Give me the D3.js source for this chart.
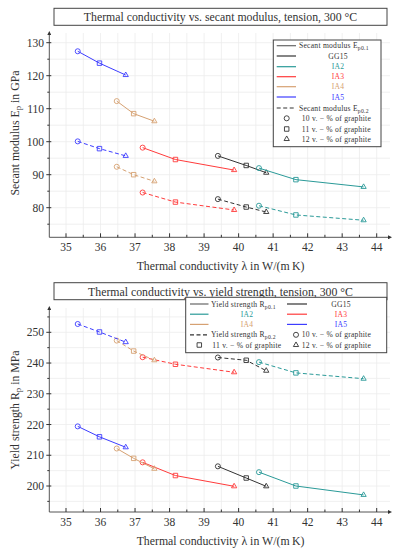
<!DOCTYPE html>
<html>
<head>
<meta charset="utf-8">
<script src="https://d3js.org/d3.v7.min.js"></script>
<style>
body { margin: 0; background: #fff; }
text { font-family: "Liberation Serif", "DejaVu Serif", serif; fill: #333; }
.leg text { letter-spacing: 0.25px; }
</style>
</head>
<body>
<svg id="chart" width="399" height="550"></svg>
<script>
// materials, in order
const materials = ["GG15", "IA2", "IA3", "IA4", "IA5"];
const matColors = ["#333333", "#2a9a98", "#ff3b3b", "#d6a172", "#3d3dff"];

// thermal conductivity at 10 / 11 / 12 v.-% graphite
const lambdaVals = [
  [39.40, 40.22, 40.80],
  [40.59, 41.66, 43.62],
  [37.22, 38.17, 39.87],
  [36.47, 36.96, 37.56],
  [35.34, 35.97, 36.73]
];
// secant modulus in GPa
const ep01 = [
  [95.7, 92.8, 90.6],
  [92.0, 88.5, 86.3],
  [98.2, 94.6, 91.4],
  [112.3, 108.5, 106.2],
  [127.4, 123.8, 120.2]
];
const ep02 = [
  [82.6, 80.2, 78.7],
  [80.6, 77.8, 76.2],
  [84.6, 81.7, 79.3],
  [92.4, 90.0, 88.0],
  [100.1, 97.9, 95.7]
];
// yield strength in MPa
const rp01 = [
  [206.4, 202.6, 199.9],
  [204.5, 200.0, 197.1],
  [207.7, 203.4, 199.9],
  [212.2, 209.0, 205.6],
  [219.4, 216.0, 212.6]
];
const rp02 = [
  [241.8, 240.9, 237.5],
  [240.3, 236.8, 234.9],
  [241.9, 239.6, 237.0],
  [247.3, 243.9, 240.9],
  [252.7, 250.1, 246.8]
];

const xTicks = [35, 36, 37, 38, 39, 40, 41, 42, 43, 44];
const epTicks = [80, 90, 100, 110, 120, 130];
const rpTicks = [200, 210, 220, 230, 240, 250];
const shapes = [d3.symbolCircle, d3.symbolSquare, d3.symbolTriangle];
const graphiteLabels = ["10 v. \u2212 % of graphite", "11 v. \u2212 % of graphite", "12 v. \u2212 % of graphite"];

const svg = d3.select("#chart");
const axisColor = "#555";

svg.append("defs").append("marker")
  .attr("id", "arrow").attr("viewBox", "0 0 10 10")
  .attr("refX", 5).attr("refY", 5)
  .attr("markerWidth", 4).attr("markerHeight", 4)
  .attr("orient", "auto")
  .append("path").attr("d", "M0,0 L10,5 L0,10 z").attr("fill", "#333");

function addSub(sel, main, sub, rest) {
  sel.append("tspan").text(main);
  sel.append("tspan").attr("dy", 2).attr("font-size", "0.75em").text(sub);
  if (rest) sel.append("tspan").attr("dy", -2).text(rest);
}

function symSize(k) { return k === 2 ? 12 : 20; }

function panel(o) {
  const g = svg.append("g");
  const x = d3.scaleLinear().domain([35, 44]).range([66, 376.7]);
  const y = d3.scaleLinear().domain(o.yDom).range(o.yRange);
  const left = 49.3, right = 390;

  // grid
  const gx = d3.range(35, 44.01, 0.5);
  const gy = d3.range(o.yGrid[0], o.yGrid[1] + 0.01, 5);
  g.append("g").selectAll("line").data(gx).join("line")
    .attr("x1", d => x(d)).attr("x2", d => x(d))
    .attr("y1", o.top).attr("y2", o.bottom)
    .attr("stroke", "#ececec").attr("stroke-width", 0.8);
  g.append("g").selectAll("line").data(gy).join("line")
    .attr("x1", left).attr("x2", right)
    .attr("y1", d => y(d)).attr("y2", d => y(d))
    .attr("stroke", "#ececec").attr("stroke-width", 0.8);

  // axes lines
  g.append("line").attr("x1", left).attr("x2", left).attr("y1", o.bottom).attr("y2", o.top)
    .attr("stroke", axisColor).attr("stroke-width", 1).attr("marker-end", "url(#arrow)");
  g.append("line").attr("x1", left).attr("x2", right).attr("y1", o.bottom).attr("y2", o.bottom)
    .attr("stroke", axisColor).attr("stroke-width", 1).attr("marker-end", "url(#arrow)");

  // x ticks
  g.append("g").selectAll("line").data(gx).join("line")
    .attr("x1", d => x(d)).attr("x2", d => x(d))
    .attr("y1", o.bottom).attr("y2", d => o.bottom - (d % 1 === 0 ? 4 : 2.5))
    .attr("stroke", "#333").attr("stroke-width", 1);
  g.append("g").selectAll("text").data(xTicks).join("text")
    .attr("x", d => x(d)).attr("y", o.bottom + 13.5)
    .attr("text-anchor", "middle").attr("font-size", 11.5).text(d => d);

  // y ticks
  g.append("g").selectAll("line").data(gy).join("line")
    .attr("y1", d => y(d)).attr("y2", d => y(d))
    .attr("x1", d => left - (d % 10 === 0 ? 3 : 2)).attr("x2", d => left + (d % 10 === 0 ? 2 : 0))
    .attr("stroke", "#333").attr("stroke-width", 1);
  g.append("g").selectAll("text").data(o.yTicks).join("text")
    .attr("x", 44).attr("y", d => y(d) + 4)
    .attr("text-anchor", "end").attr("font-size", 11.5).text(d => d);

  // axis labels
  g.append("text").attr("x", 220.5).attr("y", o.bottom + 33)
    .attr("text-anchor", "middle").attr("font-size", 11.8)
    .text("Thermal conductivity \u03bb in W/(m\u2009K)");
  const yl = g.append("text")
    .attr("transform", "translate(19," + o.yLabelY + ") rotate(-90)")
    .attr("text-anchor", "middle").attr("font-size", 11.8);
  addSub(yl, o.yLabel[0], "p", o.yLabel[1]);

  // series
  const line = d3.line().x(d => x(d[0])).y(d => y(d[1]));
  [[o.s1, null], [o.s2, "4,2.5"]].forEach(([vals, dash]) => {
    materials.forEach((m, i) => {
      const pts = lambdaVals[i].map((l, k) => [l, vals[i][k]]);
      g.append("path").attr("d", line(pts)).attr("fill", "none")
        .attr("stroke", matColors[i]).attr("stroke-width", 1)
        .attr("stroke-dasharray", dash);
      g.append("g").selectAll("path").data(pts).join("path")
        .attr("transform", d => "translate(" + x(d[0]) + "," + y(d[1]) + ")")
        .attr("d", (d, k) => d3.symbol().type(shapes[k]).size(symSize(k))())
        .attr("fill", "none").attr("stroke", matColors[i]).attr("stroke-width", 0.9);
    });
  });

  // title
  g.append("rect").attr("x", 54).attr("y", o.titleY).attr("width", 333).attr("height", 17)
    .attr("fill", "#fff").attr("stroke", "#444").attr("stroke-width", 1);
  g.append("text").attr("x", 220.5).attr("y", o.titleY + 12.8)
    .attr("text-anchor", "middle").attr("font-size", 11.8).text(o.title);
  return g;
}

panel({
  yDom: [80, 130], yRange: [207.7, 42.7], top: 33, bottom: 237.3,
  yGrid: [75, 130], yTicks: epTicks, yLabelY: 133,
  yLabel: ["Secant modulus E", " in GPa"],
  s1: ep01, s2: ep02, titleY: 8.3,
  title: "Thermal conductivity vs. secant modulus, tension, 300 \u00b0C"
});
panel({
  yDom: [200, 250], yRange: [486, 332.3], top: 308, bottom: 512,
  yGrid: [195, 255], yTicks: rpTicks, yLabelY: 410,
  yLabel: ["Yield strength R", " in MPa"],
  s1: rp01, s2: rp02, titleY: 282.7,
  title: "Thermal conductivity vs. yield strength, tension, 300 \u00b0C"
});

// legend, top chart
const fs = 7.6;
const lg1 = svg.append("g").attr("class", "leg");
lg1.append("rect").attr("x", 273.3).attr("y", 40).attr("width", 107.7).attr("height", 106.7)
  .attr("fill", "#fff").attr("stroke", "#444").attr("stroke-width", 1);
const rows1 = [45.7, 56, 66.7, 76.7, 86.7, 97, 108, 118.3, 129, 139];
function legLine(g, x1, x2, yy, color, dash) {
  g.append("line").attr("x1", x1).attr("x2", x2).attr("y1", yy).attr("y2", yy)
    .attr("stroke", color).attr("stroke-width", 1.2).attr("stroke-dasharray", dash);
}
function legSym(g, cx, cy, k) {
  g.append("path").attr("transform", "translate(" + cx + "," + cy + ")")
    .attr("d", d3.symbol().type(shapes[k]).size(symSize(k))())
    .attr("fill", "none").attr("stroke", "#333").attr("stroke-width", 0.9);
}
legLine(lg1, 276.7, 296, rows1[0], "#666", null);
addSub(lg1.append("text").attr("x", 299).attr("y", rows1[0] + 2.5).attr("font-size", fs), "Secant modulus E", "p0.1");
materials.forEach((m, i) => {
  legLine(lg1, 276.7, 296, rows1[i + 1], matColors[i], null);
  lg1.append("text").attr("x", 338).attr("y", rows1[i + 1] + 2.5).attr("text-anchor", "middle")
    .attr("font-size", fs).style("fill", matColors[i]).text(m);
});
legLine(lg1, 276.7, 296, rows1[6], "#333", "4,2.5");
addSub(lg1.append("text").attr("x", 299).attr("y", rows1[6] + 2.5).attr("font-size", fs), "Secant modulus E", "p0.2");
graphiteLabels.forEach((t, k) => {
  legSym(lg1, 286.7, rows1[7 + k], k);
  lg1.append("text").attr("x", 301.7).attr("y", rows1[7 + k] + 2.5).attr("font-size", fs).text(t);
});

// legend, bottom chart
const lg2 = svg.append("g").attr("class", "leg");
lg2.append("rect").attr("x", 185.7).attr("y", 297.3).attr("width", 201).attr("height", 55.4)
  .attr("fill", "#fff").attr("stroke", "#444").attr("stroke-width", 1);
const rows2 = [304, 314.2, 324.4, 334.8, 345];
legLine(lg2, 190, 208.5, rows2[0], "#666", null);
addSub(lg2.append("text").attr("x", 211).attr("y", rows2[0] + 2.5).attr("font-size", fs), "Yield strength R", "p0.1");
const col1 = [1, 3], col2 = [0, 2, 4];
col2.forEach((i, r) => {
  legLine(lg2, 287, 307, rows2[r], matColors[i], null);
  lg2.append("text").attr("x", 341).attr("y", rows2[r] + 2.5).attr("text-anchor", "middle")
    .attr("font-size", fs).style("fill", matColors[i]).text(materials[i]);
});
col1.forEach((i, r) => {
  legLine(lg2, 190, 208.5, rows2[r + 1], matColors[i], null);
  lg2.append("text").attr("x", 247).attr("y", rows2[r + 1] + 2.5).attr("text-anchor", "middle")
    .attr("font-size", fs).style("fill", matColors[i]).text(materials[i]);
});
legLine(lg2, 190, 208.5, rows2[3], "#333", "4,2.5");
addSub(lg2.append("text").attr("x", 211).attr("y", rows2[3] + 2.5).attr("font-size", fs), "Yield strength R", "p0.2");
legSym(lg2, 199.3, rows2[4], 1);
lg2.append("text").attr("x", 212.3).attr("y", rows2[4] + 2.5).attr("font-size", fs).text(graphiteLabels[1]);
legSym(lg2, 296, rows2[3], 0);
lg2.append("text").attr("x", 301.7).attr("y", rows2[3] + 2.5).attr("font-size", fs).text(graphiteLabels[0]);
legSym(lg2, 296, rows2[4], 2);
lg2.append("text").attr("x", 301.7).attr("y", rows2[4] + 2.5).attr("font-size", fs).text(graphiteLabels[2]);
</script>
</body>
</html>
